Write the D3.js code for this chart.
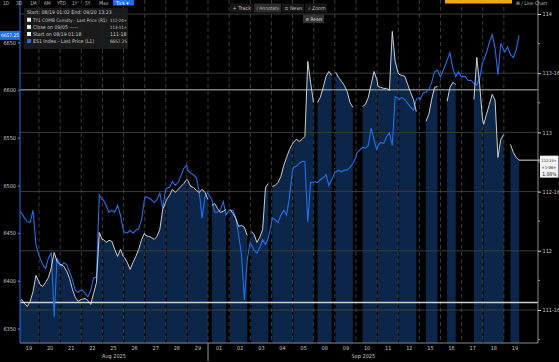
<!DOCTYPE html>
<html><head><meta charset="utf-8">
<script src="https://cdn.jsdelivr.net/npm/d3@7"></script>
<style>
html,body{margin:0;padding:0;background:#000;overflow:hidden}
svg{display:block}
text{font-family:"Liberation Sans Narrow","DejaVu Sans Condensed","Liberation Sans",sans-serif}
</style></head><body>
<svg id="c" width="559" height="362"></svg>
<script>
// ---------- data ----------
const dayLabels = ["19","20","21","22","25","26","27","28","29","01","02","03","04","05","08","09","10","11","12","15","16","17","18","19"];
const monthLabels = ["Aug 2025","Sep 2025"];
const monthStartDay = [0, 9];
const samplesPerDay = 8; // samples every 3h15m of each session

const esPrice = [
 6474,6471,6466,6462,6461,6474,6438,6427,
 6424,6417,6413,6424,6429,6362,6424,6417,
 6415,6419,6417,6409,6401,6390,6388,6390,
 6390,6387,6383,6390,6403,6404,6490,6485,
 6485,6479,6472,6474,6472,6479,6469,6453,
 6451,6450,6453,6450,6453,6455,6464,6485,
 6488,6487,6485,6482,6485,6492,6476,6495,
 6497,6498,6504,6500,6503,6510,6518,6521,
 6516,6513,6511,6508,6493,6466,6488,6492,
 6490,6485,6472,6472,6474,6483,6469,6474,
 6474,6474,6466,6448,6427,6380,6422,6440,
 6438,6432,6429,6435,6443,6438,6445,6459,
 6466,6464,6461,6469,6474,6469,6488,6514,
 6519,6520,6523,6525,6525,6462,6503,6503,
 6504,6503,6506,6508,6511,6500,6506,6513,
 6514,6516,6514,6516,6516,6519,6523,6529,
 6534,6537,6540,6539,6542,6560,6548,6537,
 6542,6545,6544,6551,6555,6542,6593,6592,
 6590,6592,6590,6586,6582,6579,6590,6592,
 6590,6597,6598,6600,6608,6619,6621,6614,
 6616,6623,6631,6639,6623,6614,6619,6614,
 6614,6614,6610,6610,6607,6605,6612,6629,
 6631,6639,6650,6658,6644,6616,6649,6642,
 6640,6645,6637,6634,6642,6657.25,null,null
];

const tyPrice = [
 111.563,111.590,111.556,111.530,111.573,111.657,111.792,111.741,
 111.716,111.699,111.733,111.775,111.860,111.986,111.910,111.885,
 111.885,111.868,111.826,111.767,111.674,111.606,111.573,111.590,
 111.590,111.598,111.581,111.547,111.640,111.733,112.155,112.096,
 112.096,112.071,112.088,112.080,112.012,111.953,112.012,111.953,
 111.944,111.902,111.843,111.902,111.953,112.012,112.096,112.147,
 112.130,112.122,112.113,112.096,112.122,112.181,112.350,112.409,
 112.434,112.468,112.519,112.493,112.519,112.544,112.569,112.603,
 112.595,112.544,112.535,112.510,112.493,112.519,112.493,112.434,
 null,112.383,112.400,112.358,112.324,112.333,112.350,null,
 112.350,112.316,112.274,112.206,112.215,112.198,112.130,null,
 112.164,112.139,112.071,112.113,112.181,112.535,112.569,null,
 112.544,112.552,112.578,112.628,112.721,112.789,112.856,112.899,
 112.916,112.941,112.924,112.941,112.966,113.600,113.422,113.253,
 null,113.253,113.296,113.380,113.473,113.515,113.481,null,
 113.507,113.465,113.431,113.397,113.346,113.253,113.211,null,
 null,null,113.220,113.236,113.296,113.405,113.515,113.448,
 113.389,113.380,113.372,113.372,113.355,113.853,113.600,113.507,
 113.490,113.481,113.473,113.405,113.338,113.279,113.177,null,
 null,null,113.093,113.152,113.279,113.380,113.389,null,
 null,null,113.262,113.380,113.422,113.405,null,null,
 null,null,null,null,113.279,113.633,113.405,113.110,
 113.068,113.152,113.236,113.321,113.271,112.789,112.941,112.983,
 null,null,112.899,112.831,112.789,112.765625,null,null
];

const esTicks = [6350,6400,6450,6500,6550,6600,6650];
const tyTicks = [111.5,112,112.5,113,113.5,114];
const tyMinorTicks = [111.25,111.75,112.25,112.75,113.25,113.75];
const esLast = 6657.25;
const tyLast = 112.765625;
const tyChange = "+1-06+";
const tyChangePct = "1.08%";
const tyClose0905 = 113.359375;  // 113-11+
const tyStart0819 = 111.5625;    // 111-18
const legendTitle = "Start: 08/19 01:02 End: 09/20 13:23";
const legendNames = ["TY1 COMB Comdty - Last Price (R1)","Close on 09/05 -----","Start on 08/19 01:18","ES1 Index - Last Price (L1)"];
const legendValues = ["112-24+","113-11+","111-18","6657.25"];
const legendSwatch = ["#f0f0f0","#f0f0f0","#f0f0f0","#1f6fe5"];
const rangeTabs = ["1D","3D","1M","6M","YTD","1Y","5Y","Max"];
const toolButtons = ["+ Track","\u2215 Annotate","\u2261 News","\u2315 Zoom"];

// ---------- layout ----------
const W = 559, H = 362;
const L = 20, R = 538, T = 0, B = 343;
const blue = "#2470e6", white = "#e2e2e2", navy = "#0b2648", grid = "#3c3c3c", txt = "#c8c8c8";

const svg = d3.select("#c");
svg.append("rect").attr("width",W).attr("height",H).attr("fill","#000");

const x = d3.scaleLinear().domain([0,24]).range([17.87, 525]);
const yES = d3.scaleLinear().domain([6350,6650]).range([328.5,42.3]);
const yTY = d3.scaleLinear().domain([111.5,114]).range([310,14]);

const uOf = k => Math.floor(k/samplesPerDay) + (1 + 3.25*(k%samplesPerDay))/24;
const es = esPrice.map((v,k)=>({u:uOf(k), v}));
const ty = tyPrice.map((v,k)=>({u:uOf(k), v}));

function f32(v){
  const w = Math.floor(v + 1e-9);
  const t = (v - w)*32;
  if (t < 1e-6) return String(w);
  const whole = Math.floor(t + 1e-6);
  const half = (t - whole) > 0.25;
  return w + "-" + String(whole).padStart(2,"0") + (half ? "+" : "");
}
// shrink the font of a text until it fits maxW
function fit(sel, maxW){
  const fs = +sel.attr("font-size");
  const w = sel.node().getComputedTextLength();
  if (w > maxW) sel.attr("font-size", (fs*maxW/w).toFixed(2));
  return sel;
}

svg.append("defs").append("clipPath").attr("id","plot")
  .append("rect").attr("x",L).attr("y",T).attr("width",R-L).attr("height",B-T);
const plot = svg.append("g").attr("clip-path","url(#plot)");

// TY area, one piece per trading session
const area = d3.area().defined(d=>d.v!=null).x(d=>x(d.u)).y0(B).y1(d=>yTY(d.v));
for (let j=0;j<dayLabels.length;j++){
  plot.append("path").datum(ty.slice(j*samplesPerDay,(j+1)*samplesPerDay))
    .attr("d",area).attr("fill",navy);
}

// horizontal grid at TY ticks
plot.selectAll(".hg").data(tyTicks).join("line")
  .attr("x1",L).attr("x2",R).attr("y1",d=>yTY(d)).attr("y2",d=>yTY(d))
  .attr("stroke",grid).attr("stroke-width",1);

// vertical dashed day separators
const bounds = d3.range(1, dayLabels.length);
plot.selectAll(".vg").data(bounds).join("line")
  .attr("x1",d=>x(d)).attr("x2",d=>x(d)).attr("y1",T).attr("y2",B)
  .attr("stroke","#4a4a4a").attr("stroke-width",0.8).attr("stroke-dasharray","4,3");

// reference lines
plot.append("line").attr("x1",L).attr("x2",R).attr("y1",yTY(tyClose0905)).attr("y2",yTY(tyClose0905))
  .attr("stroke","#bdbdbd").attr("stroke-width",1);
plot.append("line").attr("x1",L).attr("x2",R).attr("y1",yTY(tyStart0819)).attr("y2",yTY(tyStart0819))
  .attr("stroke","#cfcfcf").attr("stroke-width",1.5);

// ES line
plot.append("path").datum(es)
  .attr("d", d3.line().defined(d=>d.v!=null).x(d=>x(d.u)).y(d=>yES(d.v)))
  .attr("fill","none").attr("stroke",blue).attr("stroke-width",1.1);
// TY line
plot.append("path").datum(ty)
  .attr("d", d3.line().defined(d=>d.v!=null).x(d=>x(d.u)).y(d=>yTY(d.v)))
  .attr("fill","none").attr("stroke",white).attr("stroke-width",0.9);

// ---------- axes ----------
svg.append("line").attr("x1",L).attr("x2",L).attr("y1",0).attr("y2",B).attr("stroke",blue).attr("stroke-width",1);
const axL = svg.append("g").attr("transform",`translate(${L},0)`)
  .call(d3.axisLeft(yES).tickValues(esTicks).tickSize(2).tickPadding(2).tickFormat(d3.format("d")));
axL.select(".domain").remove();
axL.selectAll(".tick line").attr("stroke",blue).attr("stroke-width",1.5);
axL.selectAll(".tick text").attr("fill",txt).attr("font-size",5.5);

svg.append("line").attr("x1",R).attr("x2",R).attr("y1",0).attr("y2",B).attr("stroke","#8a8a8a").attr("stroke-width",1);
const axR = svg.append("g").attr("transform",`translate(${R},0)`)
  .call(d3.axisRight(yTY).tickValues(tyTicks).tickSize(3).tickPadding(1.5).tickFormat(f32));
axR.select(".domain").remove();
axR.selectAll(".tick line").attr("stroke","#d0d0d0");
axR.selectAll(".tick text").attr("fill",txt).attr("font-size",5.5);
svg.selectAll(".mt").data(tyMinorTicks).join("line")
  .attr("x1",R).attr("x2",R+2).attr("y1",d=>yTY(d)).attr("y2",d=>yTY(d)).attr("stroke","#999");

svg.append("line").attr("x1",L).attr("x2",R).attr("y1",B).attr("y2",B).attr("stroke","#8a8a8a");
const axB = svg.append("g").attr("transform",`translate(0,${B})`)
  .call(d3.axisBottom(x).tickValues(d3.range(dayLabels.length).map(j=>j+0.5)).tickSize(0).tickPadding(3)
  .tickFormat((d,i)=>dayLabels[i]));
axB.select(".domain").remove();
axB.selectAll(".tick text").attr("fill",txt).attr("font-size",5.5);
const monthEnd = [monthStartDay[1], 23.7];
monthLabels.forEach((m,i)=>{
  const a = Math.max(x(monthStartDay[i]), L), b = x(monthEnd[i]);
  svg.append("text").attr("x",(a+b)/2).attr("y",357.5).attr("text-anchor","middle")
    .attr("fill",txt).attr("font-size",5.5).text(m);
});
svg.append("line").attr("x1",x(monthStartDay[1])).attr("x2",x(monthStartDay[1]))
  .attr("y1",B).attr("y2",361).attr("stroke","#9a9a9a");

// ---------- last value tags ----------
svg.append("rect").attr("x",0).attr("y",yES(esLast)-4.5).attr("width",L).attr("height",9).attr("fill","#1f6fe5");
fit(svg.append("text").attr("x",10).attr("y",yES(esLast)+2).attr("text-anchor","middle")
  .attr("fill","#fff").attr("font-size",5.5).text(d3.format(".2f")(esLast)), 18);

const tyLastU = ty.filter(d=>d.v!=null).slice(-1)[0].u;
svg.append("line").attr("x1",x(tyLastU)).attr("x2",541).attr("y1",yTY(tyLast)).attr("y2",yTY(tyLast))
  .attr("stroke","#e0e0e0").attr("stroke-width",1);
svg.append("rect").attr("x",540).attr("y",yTY(tyLast)-4.5).attr("width",18.5).attr("height",22)
  .attr("fill","#f2f2f2");
[f32(tyLast), tyChange, tyChangePct].forEach((t,i)=>{
  fit(svg.append("text").attr("x",556.5).attr("y",yTY(tyLast)+1.8+i*7).attr("text-anchor","end")
    .attr("fill","#111").attr("font-size",5).text(t), 15);
});

// ---------- legend ----------
const lg = svg.append("g");
lg.append("rect").attr("x",24).attr("y",8).attr("width",104).attr("height",41).attr("fill","#1c1c1c").attr("opacity",0.92);
fit(lg.append("text").attr("x",27).attr("y",13.6).attr("fill",txt).attr("font-size",5.2).text(legendTitle), 96);
legendNames.forEach((n,i)=>{
  const by = 21.8 + i*7.1;
  lg.append("rect").attr("x",27).attr("y",by-4).attr("width",4).attr("height",4).attr("fill",legendSwatch[i]);
  fit(lg.append("text").attr("x",33).attr("y",by).attr("fill",txt).attr("font-size",5.2).text(n), 74);
  fit(lg.append("text").attr("x",110).attr("y",by).attr("fill",txt).attr("font-size",5.2).text(legendValues[i]), 17);
});

// ---------- top bar / toolbar ----------
const bar = svg.append("g");
const tabX = [3,16,30,44,57,72,85,99];
rangeTabs.forEach((t,i)=>bar.append("text").attr("x",tabX[i]).attr("y",4.6).attr("fill","#bbb").attr("font-size",5).text(t));
bar.append("rect").attr("x",113).attr("y",0).attr("width",21).attr("height",5.5).attr("fill","#1f6fe5");
bar.append("text").attr("x",116).attr("y",4.6).attr("fill","#fff").attr("font-size",5).text("Tick \u25BE");
bar.append("rect").attr("x",445).attr("y",0).attr("width",67).attr("height",3.5).attr("fill","#f5a31a");
fit(bar.append("text").attr("x",516).attr("y",4.6).attr("fill","#bbb").attr("font-size",5).text("\u229E \u2215 Line Chart"), 41);

const btnX = [230,254,282,305], btnW = [23,27,22,22];
toolButtons.forEach((t,i)=>{
  bar.append("rect").attr("x",btnX[i]).attr("y",3.5).attr("width",btnW[i]).attr("height",9)
    .attr("fill", i===1 ? "#2c2c2c" : "#171717");
  fit(bar.append("text").attr("x",btnX[i]+2.5).attr("y",10.3).attr("fill","#bbb").attr("font-size",5.5).text(t), btnW[i]-4);
});
bar.append("rect").attr("x",303).attr("y",14.5).attr("width",21).attr("height",8.5).attr("fill","#333");
fit(bar.append("text").attr("x",305.5).attr("y",21).attr("fill","#ddd").attr("font-size",5.5).text("\u2298 Reset"), 17);
</script>
</body></html>
